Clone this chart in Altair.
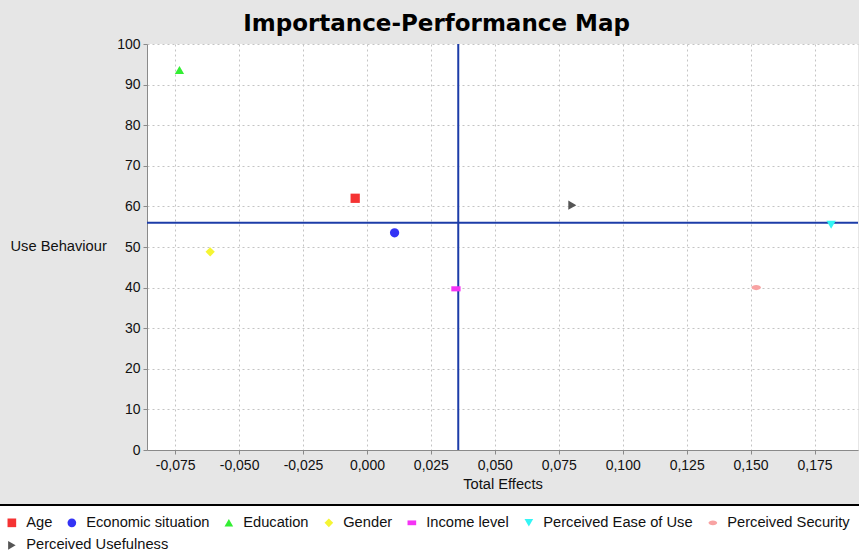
import altair as alt
import pandas as pd

# ---- data ----
constructs = ["Age", "Economic situation", "Education", "Gender", "Income level",
              "Perceived Ease of Use", "Perceived Security", "Perceived Usefulness"]
total_effects = [-0.0046, 0.0108, -0.0733, -0.0613, 0.0348, 0.1815, 0.1522, 0.0803]
performance = [62.0, 53.5, 93.6, 48.8, 39.7, 55.5, 40.0, 60.3]

mean_effect = [0.0357]
mean_performance = [56.0]

x_ticks = [-0.075, -0.05, -0.025, 0.0, 0.025, 0.05, 0.075, 0.1, 0.125, 0.15, 0.175]
y_ticks = [0, 10, 20, 30, 40, 50, 60, 70, 80, 90, 100]

colors = ["#f53333", "#3333f5", "#33ee33", "#f5f533", "#f533f5", "#33f5f5", "#f8a3a3", "#555555"]
shapes = [
    "square",
    "circle",
    "triangle-up",
    "diamond",
    "M-1,-0.55L1,-0.55L1,0.55L-1,0.55Z",
    "triangle-down",
    "M-1,0A1,0.55,0,1,1,1,0A1,0.55,0,1,1,-1,0Z",
    "triangle-right",
]

df = pd.DataFrame({"construct": constructs, "effect": total_effects, "perf": performance})
df_row1 = df.iloc[:7]
df_row2 = df.iloc[7:]
vdf = pd.DataFrame({"v": mean_effect})
hdf = pd.DataFrame({"h": mean_performance})

FONT = "Liberation Sans"
LABEL_EXPR = "replace(replace(format(datum.value, '.3f'), '.', ','), '\u2212', '-')"

x_scale = alt.Scale(domain=[-0.086, 0.192], nice=False, zero=False)
y_scale = alt.Scale(domain=[0, 100], nice=False)

common_legend = dict(
    orient="none", direction="horizontal",
    labelFont=FONT, labelFontSize=14.7, labelColor="#111111", labelOffset=7,
    columnPadding=12, symbolSize=75, symbolStrokeWidth=0,
)

legend1 = alt.Legend(
    title="\u00a0", titleOrient="bottom", titleFontSize=16, titlePadding=4,
    legendX=-152.5, legendY=461, padding=10, fillColor="white", strokeColor="black",
    zindex=0, **common_legend,
)
legend2 = alt.Legend(
    title=None, legendX=-142.5, legendY=494, padding=0, zindex=1, **common_legend,
)

x_enc = alt.X("effect:Q", scale=x_scale, title="Total Effects",
              axis=alt.Axis(values=x_ticks, labelExpr=LABEL_EXPR))
y_enc = alt.Y("perf:Q", scale=y_scale, title="Use Behaviour",
              axis=alt.Axis(values=y_ticks, titleAngle=0, titleAlign="left",
                            titleBaseline="middle", titleX=-137, titleY=202))

points1 = alt.Chart(df_row1).mark_point(filled=True, size=86, opacity=1).encode(
    x=x_enc, y=y_enc,
    color=alt.Color("construct:N", scale=alt.Scale(domain=constructs[:7], range=colors[:7]), legend=legend1),
    shape=alt.Shape("construct:N", scale=alt.Scale(domain=constructs[:7], range=shapes[:7]), legend=legend1),
)
points2 = alt.Chart(df_row2).mark_point(filled=True, size=86, opacity=1).encode(
    x=x_enc, y=y_enc,
    color=alt.Color("construct:N", scale=alt.Scale(domain=constructs[7:], range=colors[7:]), legend=legend2),
    shape=alt.Shape("construct:N", scale=alt.Scale(domain=constructs[7:], range=shapes[7:]), legend=legend2),
)

vline = alt.Chart(vdf).mark_rule(color="#1c3ca8", strokeWidth=2).encode(x=alt.X("v:Q", scale=x_scale))
hline = alt.Chart(hdf).mark_rule(color="#1c3ca8", strokeWidth=2).encode(y=alt.Y("h:Q", scale=y_scale))

chart = alt.layer(vline, hline, points1, points2).resolve_scale(
    color="independent", shape="independent"
).resolve_legend(color="independent", shape="independent").properties(
    width=711, height=406,
    title=alt.TitleParams("Importance-Performance Map", anchor="middle", dx=-66, dy=28,
                          font="DejaVu Sans", fontSize=23, fontWeight="bold",
                          color="black", baseline="alphabetic", offset=11),
    background="#e6e6e6",
    padding={"left": 147, "top": 44, "right": 1, "bottom": 105},
    autosize=alt.AutoSizeParams(type="none"),
).configure_view(fill="white", strokeWidth=0).configure_axis(
    labelFont=FONT, labelFontSize=14, labelColor="#111111",
    titleFont=FONT, titleFontSize=14.7, titleFontWeight="normal", titleColor="#111111",
    domainColor="#8a8a8a", tickColor="#8a8a8a", tickSize=4,
    gridColor="#c4c4c4", gridDash=[2, 3], gridWidth=1,
    labelPadding=3,
).configure_axisX(titlePadding=4, labelPadding=4).configure_axisY(labelPadding=3
).configure_legend(strokeWidth=2)

chart.save("out.html", embed_options={"renderer": "svg", "actions": False})
